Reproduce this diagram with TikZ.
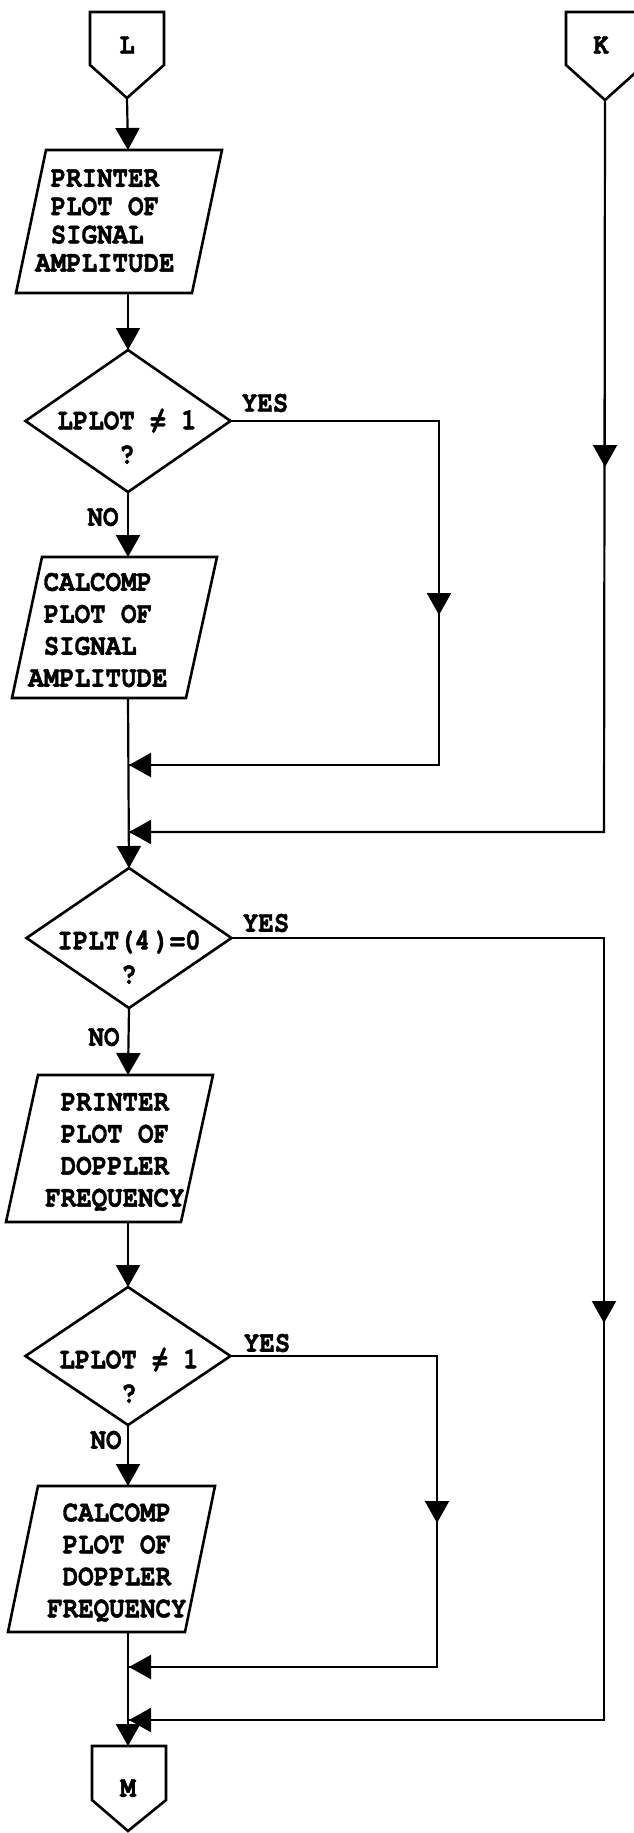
\documentclass[tikz,border=0pt]{standalone}
\usepackage{fontspec}
\newfontfamily\tw[FakeStretch=0.86,FakeBold=1.5]{texgyrecursor-bold.otf}
\usetikzlibrary{arrows.meta,shapes.geometric}
\newcommand\mynoteq{\ooalign{=\cr\hidewidth/\hidewidth\cr}}
\begin{document}
\begin{tikzpicture}[x=1pt,y=-1pt,
  shapeline/.style={line width=2.6pt,line join=miter},
  plain/.style={line width=2.2pt,line join=miter},
  flow/.style={line width=2.2pt,-{Triangle[length=22pt,width=24pt]}},
  dia/.style={shape=diamond,draw,shapeline,inner sep=0pt,outer sep=0pt,minimum width=205pt},
  txt/.style={inner sep=0pt,font=\tw\fontsize{30}{34}\selectfont},
  blk/.style={txt,align=left,anchor=west}]
\fill[white] (0,0) rectangle (634,1833);
\useasboundingbox (0,0) rectangle (634,1833);
\clip (0,0) rectangle (634,1833);

% off-page connectors
\draw[shapeline] (90,12) -- (164,12) -- (164,65) -- (127,98) -- (90,65) -- cycle;
\coordinate (Lb) at (127,98);
\node[txt] (L) at (127,45) {L};
\draw[shapeline] (566,12) -- (644,12) -- (644,65) -- (605,100) -- (566,65) -- cycle;
\coordinate (Kb) at (605,100);
\node[txt] (K) at (601,45) {K};
\draw[shapeline] (92,1746) -- (166,1746) -- (166,1800) -- (128,1831) -- (92,1800) -- cycle;
\coordinate (Mt) at (128,1746);
\node[txt] (M) at (128,1788) {M};

% parallelograms
\draw[shapeline] (46,150) -- (222,150) -- (192,293) -- (16,293) -- cycle;
\coordinate (P1t) at (128,150); \coordinate (P1b) at (128,293);
\node[blk,font=\tw\fontsize{30}{28.3}\selectfont] (P1x) at (35,220.7)
  {\hphantom{A}PRINTER\\\hphantom{A}PLOT OF\\\hphantom{A}SIGNAL\\AMPLITUDE};

\draw[shapeline] (42,557) -- (217,557) -- (186,698) -- (12,698) -- cycle;
\coordinate (P2t) at (128,557); \coordinate (P2b) at (128,698);
\node[blk,font=\tw\fontsize{30}{32}\selectfont] (P2x) at (28,630)
  {\hphantom{A}CALCOMP\\\hphantom{A}PLOT OF\\\hphantom{A}SIGNAL\\AMPLITUDE};

\draw[shapeline] (38,1075) -- (213,1075) -- (181,1222) -- (6,1222) -- cycle;
\coordinate (P3t) at (128,1075); \coordinate (P3b) at (128,1222);
\node[blk,font=\tw\fontsize{30}{32}\selectfont] (P3x) at (45,1152)
  {\hphantom{A}PRINTER\\\hphantom{A}PLOT OF\\\hphantom{A}DOPPLER\\FREQUENCY};

\draw[shapeline] (38,1486) -- (215,1486) -- (185,1632) -- (8,1632) -- cycle;
\coordinate (P4t) at (128,1486); \coordinate (P4b) at (128,1632);
\node[blk,font=\tw\fontsize{30}{32}\selectfont] (P4x) at (47,1562.5)
  {\hphantom{A}CALCOMP\\\hphantom{A}PLOT OF\\\hphantom{A}DOPPLER\\FREQUENCY};

% decisions
\node[dia,minimum height=142pt] (D1) at (128,421) {};
\node[txt,align=center] (D1x) at (127,437) {LPLOT \mynoteq{} 1\\?};
\node[dia,minimum height=140pt] (D2) at (129,938) {};
\node[txt,align=center] (D2x) at (129,957) {IPLT(4\kern4pt)=0\\?};
\node[dia,minimum height=138pt] (D3) at (128,1356) {};
\node[txt,align=center] (D3x) at (129,1376) {LPLOT \mynoteq{} 1\\?};

% labels
\node[txt] (yes1) at (265,403) {YES};
\node[txt] (yes2) at (266,923) {YES};
\node[txt] (yes3) at (267,1343) {YES};
\node[txt] (no1) at (103,517) {NO};
\node[txt] (no2) at (104,1037) {NO};
\node[txt] (no3) at (106,1440) {NO};

% main flow
\draw[flow] (Lb) -- (P1t);
\draw[flow] (P1b) -- (D1.north);
\draw[flow] (D1.south) -- (P2t);
\draw[flow] (P2b) -- (D2.north);
\draw[flow] (D2.south) -- (P3t);
\draw[flow] (P3b) -- (D3.north);
\draw[flow] (D3.south) -- (P4t);
\draw[flow] (P4b) -- (Mt);

% bypass lines
\coordinate (Y1c) at (439,421); \coordinate (Y1m) at (439,615);
\coordinate (Y1d) at (439,765); \coordinate (J1) at (129,765);
\draw[plain] (D1.east) -- (Y1c) -- (Y1d) -- (J1);
\draw[flow] (Y1c) -- (Y1m);
\draw[flow] (Y1d) -- (J1);

\coordinate (Km) at (605,467);
\coordinate (Kc) at (604,832); \coordinate (J2) at (129,832);
\draw[plain] (Kb) -- (Kc) -- (J2);
\draw[flow] (Kb) -- (Km);
\draw[flow] (Kc) -- (J2);

\coordinate (Y2c) at (604,938); \coordinate (Y2m) at (604,1323);
\coordinate (Y2d) at (604,1720); \coordinate (J4) at (129,1720);
\draw[plain] (D2.east) -- (Y2c) -- (Y2d) -- (J4);
\draw[flow] (Y2c) -- (Y2m);
\draw[flow] (Y2d) -- (J4);

\coordinate (Y3c) at (437,1356); \coordinate (Y3m) at (437,1523);
\coordinate (Y3d) at (437,1667); \coordinate (J3) at (129,1667);
\draw[plain] (D3.east) -- (Y3c) -- (Y3d) -- (J3);
\draw[flow] (Y3c) -- (Y3m);
\draw[flow] (Y3d) -- (J3);
\end{tikzpicture}
\end{document}
